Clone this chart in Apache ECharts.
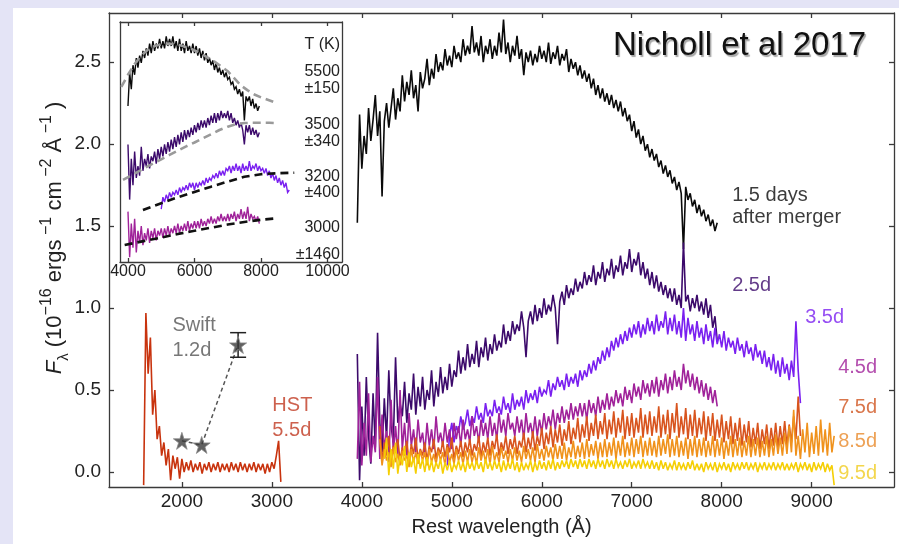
<!DOCTYPE html>
<html><head><meta charset="utf-8">
<script src="https://cdn.jsdelivr.net/npm/echarts@6/dist/echarts.min.js"></script>
<style>
html,body{margin:0;padding:0;background:#e4e4f6;width:899px;height:544px;overflow:hidden;}
#bg{position:absolute;left:13px;top:8px;width:886px;height:536px;background:#fff;}
#chart{position:absolute;left:0;top:0;width:899px;height:544px;}
</style></head><body>
<div id="bg"></div><div id="chart"></div>
<script>
// ---------------- DATA ----------------
// Main panel: flux (1e-16 erg s^-1 cm^-2 A^-1), sampled every STEP Angstrom from *Start
const STEP = 25;
const day15Start = 3950;
const day15 = [
 1.52,2.18,1.85,2.05,1.94,2.22,2.02,2.15,2.30,2.05,2.20,1.68,2.14,2.25,2.10,2.22,2.34,2.15,2.28,2.20,
 2.42,2.26,2.38,2.30,2.45,2.28,2.36,2.20,2.44,2.34,2.40,2.52,2.36,2.46,2.40,2.55,2.44,2.50,2.45,2.58,
 2.48,2.54,2.47,2.60,2.52,2.56,2.50,2.64,2.54,2.60,2.55,2.72,2.56,2.62,2.54,2.66,2.50,2.60,2.55,2.64,
 2.52,2.60,2.54,2.68,2.56,2.76,2.55,2.62,2.50,2.60,2.54,2.66,2.52,2.58,2.42,2.56,2.50,2.57,2.48,2.55,
 2.50,2.60,2.52,2.57,2.50,2.62,2.49,2.56,2.52,2.60,2.48,2.55,2.51,2.58,2.44,2.52,2.46,2.50,2.42,2.48,
 2.40,2.45,2.38,2.43,2.34,2.40,2.30,2.36,2.28,2.34,2.26,2.31,2.24,2.30,2.22,2.27,2.20,2.26,2.17,2.22,
 2.14,2.18,2.08,2.14,2.04,2.09,2.00,2.05,1.96,2.00,1.92,1.97,1.90,1.94,1.86,1.90,1.82,1.87,1.80,1.84,
 1.76,1.80,1.72,1.77,1.70,1.36,1.74,1.66,1.70,1.62,1.66,1.58,1.63,1.56,1.60,1.53,1.57,1.50,1.54,1.47,
 1.52];
const day25Start = 3950;
const day25 = [
 0.72,-0.05,0.40,0.10,0.58,0.22,0.05,0.48,0.15,0.85,0.30,0.12,0.45,0.20,0.62,0.28,0.18,0.70,0.30,0.42,
 0.34,0.55,0.30,0.48,0.38,0.60,0.35,0.52,0.40,0.58,0.38,0.50,0.44,0.62,0.40,0.55,0.46,0.64,0.48,0.58,
 0.50,0.66,0.52,0.62,0.58,0.74,0.60,0.70,0.62,0.78,0.64,0.72,0.66,0.80,0.64,0.76,0.70,0.82,0.68,0.78,
 0.72,0.84,0.74,0.80,0.76,0.90,0.78,0.86,0.80,0.92,0.84,0.90,0.86,0.98,0.88,0.70,0.92,0.98,0.90,1.02,
 0.92,1.00,0.94,1.06,0.96,1.02,0.98,1.08,1.00,0.78,1.04,1.10,1.02,1.14,1.06,1.12,1.08,1.18,1.10,1.16,
 1.12,1.22,1.14,1.20,1.16,1.26,1.14,1.22,1.18,1.28,1.16,1.24,1.20,1.30,1.18,1.26,1.22,1.32,1.20,1.28,
 1.24,1.36,1.22,1.30,1.26,1.34,1.20,1.28,1.18,1.24,1.14,1.22,1.12,1.20,1.10,1.16,1.08,1.14,1.06,1.12,
 1.04,1.12,1.02,1.08,1.00,1.40,1.04,1.08,0.98,1.06,1.00,1.08,0.98,1.04,0.96,1.06,0.94,1.02,0.88,0.95,
 0.80];
const day35Start = 4950;
const day35 = [
 0.04,0.22,0.30,0.18,0.28,0.24,0.34,0.26,0.30,0.38,0.28,0.34,0.30,0.40,0.32,0.36,0.30,0.42,0.34,0.38,
 0.34,0.44,0.36,0.40,0.35,0.46,0.38,0.42,0.36,0.48,0.38,0.44,0.40,0.46,0.38,0.50,0.42,0.48,0.44,0.50,
 0.42,0.52,0.46,0.50,0.48,0.56,0.46,0.54,0.50,0.58,0.52,0.56,0.50,0.60,0.52,0.58,0.54,0.60,0.52,0.62,
 0.56,0.62,0.58,0.66,0.60,0.68,0.62,0.70,0.66,0.74,0.68,0.76,0.70,0.80,0.74,0.82,0.76,0.84,0.78,0.86,
 0.80,0.88,0.82,0.90,0.84,0.92,0.82,0.90,0.84,0.94,0.86,0.92,0.84,0.96,0.86,0.92,0.88,0.98,0.84,0.94,
 0.86,0.96,0.84,0.92,0.82,1.00,0.80,0.94,0.84,0.90,0.80,0.92,0.82,0.88,0.78,0.90,0.80,0.86,0.76,0.88,
 0.78,0.84,0.76,0.86,0.74,0.82,0.76,0.80,0.72,0.82,0.74,0.78,0.70,0.80,0.72,0.76,0.68,0.78,0.70,0.74,
 0.66,0.74,0.64,0.70,0.62,0.72,0.60,0.68,0.58,0.70,0.60,0.66,0.56,0.68,0.58,0.92,0.62,0.42];
const day45Start = 3950;
const day45 = [
 0.08,0.55,0.04,0.30,0.10,0.48,0.06,0.22,0.12,0.58,0.08,0.35,0.14,0.25,0.06,0.44,0.12,0.28,0.10,0.50,
 0.14,0.30,0.10,0.36,0.16,0.26,0.12,0.32,0.18,0.24,0.12,0.30,0.16,0.26,0.14,0.34,0.18,0.24,0.16,0.30,
 0.18,0.26,0.14,0.30,0.20,0.28,0.16,0.32,0.20,0.26,0.18,0.34,0.22,0.28,0.18,0.32,0.22,0.30,0.20,0.34,
 0.22,0.30,0.20,0.36,0.24,0.32,0.22,0.36,0.26,0.30,0.22,0.34,0.24,0.32,0.20,0.36,0.24,0.30,0.22,0.34,
 0.22,0.32,0.24,0.36,0.26,0.34,0.28,0.38,0.26,0.36,0.30,0.40,0.30,0.38,0.32,0.42,0.32,0.40,0.34,0.42,
 0.34,0.42,0.32,0.44,0.36,0.42,0.34,0.46,0.36,0.44,0.38,0.48,0.38,0.46,0.40,0.50,0.42,0.48,0.40,0.52,
 0.44,0.50,0.42,0.54,0.46,0.52,0.44,0.56,0.48,0.54,0.46,0.56,0.48,0.58,0.46,0.56,0.50,0.60,0.48,0.58,
 0.50,0.62,0.52,0.58,0.50,0.66,0.54,0.62,0.52,0.60,0.50,0.58,0.48,0.56,0.46,0.54,0.44,0.52,0.42,0.50,
 0.40];
const day75Start = 4200;
const day75 = [
 0.28,0.06,0.18,0.10,0.22,0.05,0.16,0.12,0.20,0.07,0.15,0.10,0.19,0.06,0.17,0.11,0.21,0.08,0.14,0.10,
 0.18,0.07,0.16,0.12,0.20,0.08,0.15,0.11,0.19,0.09,0.17,0.12,0.21,0.08,0.16,0.11,0.19,0.09,0.18,0.12,
 0.20,0.10,0.17,0.13,0.22,0.09,0.18,0.12,0.21,0.10,0.19,0.14,0.23,0.10,0.18,0.13,0.22,0.11,0.20,0.14,
 0.22,0.11,0.19,0.15,0.24,0.12,0.21,0.14,0.25,0.13,0.22,0.16,0.27,0.14,0.24,0.17,0.28,0.15,0.26,0.18,
 0.29,0.16,0.26,0.19,0.31,0.17,0.27,0.20,0.33,0.18,0.29,0.21,0.34,0.19,0.30,0.22,0.35,0.20,0.31,0.23,
 0.36,0.20,0.32,0.23,0.37,0.21,0.33,0.24,0.38,0.20,0.34,0.22,0.36,0.21,0.33,0.24,0.39,0.21,0.35,0.23,
 0.37,0.22,0.34,0.24,0.40,0.21,0.35,0.23,0.38,0.20,0.36,0.24,0.42,0.21,0.34,0.23,0.39,0.20,0.35,0.22,
 0.38,0.21,0.33,0.23,0.37,0.19,0.34,0.22,0.36,0.19,0.32,0.21,0.35,0.18,0.31,0.20,0.34,0.17,0.30,0.19,
 0.33,0.16,0.29,0.18,0.31,0.15,0.27,0.17,0.30,0.14,0.26,0.17,0.29,0.14,0.27,0.16,0.30,0.15,0.28,0.17,
 0.31,0.16,0.29,0.18,0.34,0.20,0.46,0.22];
const day85Start = 4200;
const day85 = [
 0.20,0.04,0.14,0.07,0.12,0.03,0.15,0.06,0.11,0.04,0.13,0.07,0.10,0.03,0.14,0.06,0.12,0.05,0.13,0.07,
 0.12,0.04,0.14,0.06,0.11,0.05,0.13,0.07,0.12,0.04,0.15,0.06,0.11,0.05,0.14,0.07,0.12,0.05,0.13,0.06,
 0.14,0.06,0.12,0.05,0.15,0.07,0.13,0.06,0.14,0.05,0.16,0.07,0.12,0.06,0.15,0.08,0.13,0.06,0.14,0.07,
 0.15,0.07,0.13,0.06,0.16,0.08,0.14,0.07,0.15,0.06,0.17,0.08,0.14,0.07,0.16,0.09,0.15,0.07,0.17,0.08,
 0.16,0.08,0.18,0.07,0.15,0.09,0.19,0.08,0.16,0.09,0.18,0.08,0.20,0.09,0.17,0.10,0.19,0.08,0.18,0.09,
 0.20,0.09,0.18,0.10,0.21,0.08,0.19,0.10,0.22,0.09,0.18,0.10,0.21,0.09,0.20,0.11,0.22,0.09,0.19,0.10,
 0.21,0.10,0.19,0.09,0.22,0.10,0.20,0.11,0.23,0.09,0.20,0.10,0.22,0.09,0.19,0.10,0.21,0.08,0.20,0.10,
 0.22,0.09,0.20,0.10,0.21,0.09,0.19,0.10,0.22,0.09,0.20,0.10,0.21,0.08,0.19,0.10,0.22,0.09,0.20,0.10,
 0.21,0.09,0.19,0.10,0.22,0.09,0.20,0.10,0.21,0.09,0.19,0.10,0.22,0.09,0.20,0.10,0.23,0.11,0.21,0.10,
 0.24,0.11,0.28,0.12,0.38,0.10,0.22,0.08,0.26,0.12,0.30,0.09,0.24,0.11,0.28,0.10,0.32,0.12,0.26,0.10,
 0.30,0.12,0.22];
const day95Start = 4250;
const day95 = [
 0.08,0.21,-0.02,0.14,0.02,0.18,-0.01,0.10,0.04,0.16,0.00,0.12,0.03,0.09,-0.01,0.11,0.02,0.08,0.00,0.09,
 0.01,0.07,0.00,0.06,0.02,0.08,-0.01,0.06,0.01,0.07,0.00,0.05,0.02,0.07,0.01,0.06,0.00,0.07,0.02,0.06,
 0.01,0.07,0.02,0.06,0.00,0.08,0.02,0.06,0.01,0.07,0.02,0.06,0.00,0.07,0.01,0.06,0.02,0.08,0.01,0.06,
 0.00,0.06,0.01,0.05,0.02,0.07,0.00,0.06,0.01,0.07,0.02,0.06,0.01,0.07,0.02,0.08,0.01,0.06,0.02,0.07,
 0.03,0.07,0.02,0.08,0.03,0.07,0.02,0.08,0.03,0.07,0.02,0.08,0.03,0.07,0.02,0.08,0.03,0.07,0.02,0.08,
 0.03,0.07,0.02,0.08,0.03,0.06,0.02,0.07,0.03,0.08,0.02,0.06,0.03,0.07,0.02,0.08,0.03,0.06,0.02,0.07,
 0.02,0.06,0.01,0.07,0.02,0.06,0.01,0.05,0.02,0.07,0.01,0.06,0.02,0.05,0.01,0.06,0.02,0.07,0.01,0.05,
 0.01,0.05,0.00,0.06,0.02,0.05,0.01,0.06,0.00,0.05,0.02,0.06,0.01,0.05,0.00,0.06,0.02,0.05,0.01,0.06,
 0.02,0.06,0.01,0.05,0.02,0.06,0.00,0.05,0.02,0.06,0.01,0.05,0.02,0.06,0.01,0.05,0.02,0.06,0.01,0.05,
 0.01,0.05,0.02,0.06,0.00,0.05,0.02,0.06,0.01,0.05,0.00,0.06,0.01,0.05,0.02,0.06,0.00,0.05,0.01,0.04,
 -0.08];
const HST_STEP = 25;
const hstStart = 1575;
const hst55 = [-0.08,0.97,0.60,0.82,0.35,0.50,0.20,0.28,0.10,0.18,
 0.04,0.14,-0.05,0.10,0.02,0.09,-0.04,0.08,0.00,0.06,
 0.01,0.07,0.00,0.05,0.01,0.06,-0.01,0.05,0.01,0.06,
 0.00,0.05,0.01,0.06,0.00,0.05,0.01,0.05,0.00,0.06,
 0.01,0.05,0.00,0.06,0.01,0.05,0.00,0.05,0.01,0.06,
 0.00,0.05,0.01,0.05,-0.01,0.05,0.00,0.06,0.02,0.10,
 0.19,-0.06];
// Swift photometry (1.2 d)
const swiftWave = [2000, 2220, 2625];
const swiftFlux = [0.19, 0.165, 0.775];
const swiftErrLo = [null, null, 0.70];
const swiftErrHi = [null, null, 0.85];

// Inset: arbitrary offset flux units, sampled every INSET_STEP Angstrom
const INSET_STEP = 50;
const inset15Start = 4000;
const inset15 = [
 6.5,7.9,7.2,8.2,7.8,8.5,8.1,8.6,8.3,8.8,8.5,8.9,8.6,9.1,8.7,9.2,8.8,9.1,8.9,9.3,
 8.9,9.2,8.9,9.4,9.0,9.3,9.0,9.4,8.9,9.2,8.8,9.3,8.8,9.1,8.7,9.2,8.8,9.0,8.7,9.1,
 8.7,9.0,8.6,8.9,8.5,8.8,8.4,8.7,8.3,8.5,8.2,8.4,8.0,8.3,7.9,8.1,7.8,8.0,7.7,7.9,
 7.6,7.7,7.4,7.5,7.2,7.3,7.0,7.2,6.9,7.1,5.9,6.9,6.7,6.9,6.5,6.8,6.4,6.6,6.3,6.5];
const fit5500Wave = [3800,4000,4200,4400,4600,4800,5000,5200,5400,5600,5800,6000,6200,6400,6600,6800,7000,7200,7400,7600,7800,8000,8200,8400];
const fit5500 = [7.3,7.8,8.25,8.6,8.85,9.0,9.07,9.1,9.08,9.02,8.93,8.82,8.68,8.52,8.35,8.15,7.95,7.65,7.35,7.15,6.98,6.86,6.76,6.66];
const inset25Start = 4000;
const inset25 = [
 4.9,2.6,4.3,3.2,4.6,3.5,4.0,3.6,4.8,3.8,4.3,4.0,4.5,3.9,4.4,4.2,4.6,4.1,4.7,4.3,
 4.8,4.4,4.9,4.5,5.0,4.6,5.1,4.7,5.2,4.8,5.3,4.9,5.4,5.0,5.5,5.1,5.5,5.2,5.6,5.3,
 5.7,5.4,5.8,5.5,5.9,5.6,5.9,5.6,6.0,5.7,6.1,5.8,6.2,5.8,6.2,5.9,6.3,6.0,6.2,6.0,
 6.3,5.9,6.2,5.8,6.0,5.7,5.9,5.6,5.8,5.5,4.9,5.7,5.4,5.7,5.3,5.6,5.3,5.5,5.2,5.4];
const fit3500Wave = [3850,4250,4500,4750,5000,5250,5500,5750,6000,6250,6500,6750,7000,7250,7500,7750,8000,8250,8400];
const fit3500 = [3.42,3.72,3.92,4.1,4.28,4.46,4.64,4.82,4.98,5.15,5.32,5.5,5.64,5.74,5.79,5.8,5.8,5.8,5.79];
const inset35Start = 5000;
const inset35 = [
 2.2,2.7,2.5,2.8,2.6,2.9,2.7,2.9,2.8,3.0,2.8,3.1,2.9,3.1,3.0,3.2,3.0,3.3,3.1,3.3,
 3.0,3.3,3.1,3.3,3.2,3.4,3.2,3.5,3.3,3.5,3.4,3.6,3.5,3.7,3.5,3.8,3.6,3.8,3.6,3.9,
 3.8,4.0,3.7,4.0,3.8,4.1,3.8,4.0,3.7,4.1,3.8,4.0,3.8,4.2,3.8,4.0,3.9,4.1,3.8,4.0,
 3.8,3.9,3.7,3.9,3.6,3.8,3.5,3.7,3.4,3.6,3.3,3.5,3.2,3.4,3.1,3.3,2.9,3.0];
const fit3200Wave = [4450,5000,5500,6000,6500,7000,7500,8000,8500,9000];
const fit3200 = [2.17,2.45,2.7,2.92,3.14,3.35,3.55,3.66,3.7,3.72];
const inset45Start = 4000;
const inset45 = [
 2.1,0.2,1.6,0.6,1.8,0.4,1.3,0.8,1.5,0.7,1.2,0.9,1.4,0.8,1.3,1.0,1.4,0.9,1.3,1.1,
 1.4,1.0,1.4,1.1,1.5,1.1,1.4,1.2,1.5,1.2,1.6,1.2,1.5,1.3,1.6,1.3,1.7,1.3,1.6,1.4,
 1.7,1.4,1.7,1.4,1.8,1.5,1.7,1.5,1.8,1.6,1.9,1.6,1.8,1.6,1.9,1.7,2.0,1.7,1.9,1.7,
 2.0,1.7,2.0,1.8,2.1,1.7,2.0,1.8,2.2,1.8,2.1,1.8,2.3,1.7,2.0,1.8,1.9,1.7,1.9,1.6];
const fit3000Wave = [3900,4500,5000,5500,6000,6500,7000,7500,8000,8400];
const fit3000 = [0.71,0.88,1.02,1.17,1.3,1.43,1.56,1.67,1.76,1.81];

// Tick labels
const mainXTicks = [2000,3000,4000,5000,6000,7000,8000,9000];
const mainYTicks = [0,0.5,1.0,1.5,2.0,2.5];
const insetXTicks = [4000,6000,8000,10000];
const insetTemps = [['5500','±150'],['3500','±340'],['3200','±400'],['3000','±1460']];

// Annotation anchors (data coordinates of main panel)
const specLabels = [
 {text:'1.5 days\nafter merger', x:8111, y:1.62, color:'#0a0a0a', lh:22},
 {text:'2.5d', x:8111, y:1.14, color:'#3c0a6b', lh:22},
 {text:'3.5d', x:8922, y:0.945, color:'#7a20f0', lh:22},
 {text:'4.5d', x:9289, y:0.64, color:'#a0229a', lh:22},
 {text:'7.5d', x:9289, y:0.396, color:'#d0541e', lh:22},
 {text:'8.5d', x:9289, y:0.189, color:'#e88a2a', lh:22},
 {text:'9.5d', x:9289, y:-0.012, color:'#f0cc20', lh:22},
 {text:'HST\n5.5d', x:3000, y:0.33, color:'#c03a22', lh:25},
 {text:'Swift\n1.2d', x:1889, y:0.82, color:'#555555', lh:25}
];

// ---------------- BUILD ----------------
const FONT = '"Liberation Sans", Arial, Helvetica, sans-serif';
const grid = (start, step, arr) => arr.map((v, i) => [start + i * step, v]);
const zip = (xs, ys) => xs.map((x, i) => [x, ys[i]]);

function spec(name, data, color, xi, lw) {
  return {name, type:'line', data, xAxisIndex:xi, yAxisIndex:xi, showSymbol:false, symbol:'none',
    lineStyle:{color, width:lw || 1.2, join:'miter', miterLimit:3}, itemStyle:{color}, animation:false, silent:true, clip:true};
}
function fit(name, data, color) {
  return {name, type:'line', data, xAxisIndex:2, yAxisIndex:2, showSymbol:false, symbol:'none',
    lineStyle:{color, width:2.6, type:[8,5]}, animation:false, silent:true, z:5};
}
const STAR = 'path://M50,0 L61.8,35.3 L99,35.3 L68.9,57.1 L80.4,92.7 L50,70.6 L19.6,92.7 L31.1,57.1 L1,35.3 L38.2,35.3 Z';

const axisLineStyle = {color:'#3a3a3a', width:1.3};
const W = 1.6;
const series = [
  spec('1.5d', grid(day15Start, STEP, day15), '#0a0a0a', 0, W),
  spec('2.5d', grid(day25Start, STEP, day25), '#3c0a6b', 0, W),
  spec('3.5d', grid(day35Start, STEP, day35), '#7a20f0', 0, W),
  spec('4.5d', grid(day45Start, STEP, day45), '#a0229a', 0, W),
  spec('7.5d', grid(day75Start, STEP, day75), '#d8541e', 0, W),
  spec('8.5d', grid(day85Start, STEP, day85), '#f0921c', 0, W),
  spec('9.5d', grid(day95Start, STEP, day95), '#f5cf05', 0, W),
  spec('HST', grid(hstStart, HST_STEP, hst55), '#c8330e', 0, 1.6),
  {name:'swiftLine', type:'line', data:zip(swiftWave, swiftFlux), xAxisIndex:0, yAxisIndex:0, symbol:'none',
   lineStyle:{color:'#555', width:1.5, type:[4,3]}, animation:false, silent:true, z:6},
  {name:'swiftErr', type:'custom', xAxisIndex:0, yAxisIndex:0, z:7, animation:false, silent:true,
   data: swiftWave.map((w, i) => [w, swiftErrLo[i], swiftErrHi[i]]).filter(d => d[1] !== null),
   encode:{x:0, y:[1,2]},
   renderItem:(params, api) => {
     const x = api.value(0);
     const lo = api.coord([x, api.value(1)]);
     const hi = api.coord([x, api.value(2)]);
     const w = 8, st = {stroke:'#222', lineWidth:1.5};
     return {type:'group', children:[
       {type:'line', shape:{x1:lo[0], y1:lo[1], x2:hi[0], y2:hi[1]}, style:st},
       {type:'line', shape:{x1:lo[0]-w, y1:lo[1], x2:lo[0]+w, y2:lo[1]}, style:st},
       {type:'line', shape:{x1:hi[0]-w, y1:hi[1], x2:hi[0]+w, y2:hi[1]}, style:st}]};
   }},
  {name:'swift', type:'scatter', data:zip(swiftWave, swiftFlux), xAxisIndex:0, yAxisIndex:0,
   symbol:STAR, symbolSize:17, itemStyle:{color:'#3a3a3a', borderColor:'#8a8a8a', borderWidth:1},
   animation:false, silent:true, z:8},
  {name:'labels', type:'scatter', xAxisIndex:0, yAxisIndex:0, symbolSize:1, silent:true, animation:false, z:9,
   itemStyle:{color:'transparent'},
   label:{show:true, position:'right', distance:0, fontSize:20, fontFamily:FONT},
   data: specLabels.map(l => ({value:[l.x, l.y], label:{formatter:l.text, color:l.color, lineHeight:l.lh}}))},
  // inset
  spec('in1.5', grid(inset15Start, INSET_STEP, inset15), '#0a0a0a', 2, 1.4),
  spec('in2.5', grid(inset25Start, INSET_STEP, inset25), '#3c0a6b', 2, 1.4),
  spec('in3.5', grid(inset35Start, INSET_STEP, inset35), '#7a20f0', 2, 1.4),
  spec('in4.5', grid(inset45Start, INSET_STEP, inset45), '#a0229a', 2, 1.4),
  fit('fit5500', zip(fit5500Wave, fit5500), '#9a9a9a'),
  fit('fit3500', zip(fit3500Wave, fit3500), '#9a9a9a'),
  fit('fit3200', zip(fit3200Wave, fit3200), '#111111'),
  fit('fit3000', zip(fit3000Wave, fit3000), '#111111')
];

const tickLab = {fontSize:19, color:'#222', fontFamily:FONT};
const plain = v => String(v);
const option = {
  animation:false,
  backgroundColor:'transparent',
  grid:[
    {left:109, top:13, right:5, bottom:57, show:false},
    {left:120, top:22, width:222, height:240, show:true, backgroundColor:'#ffffff', borderWidth:0, z:3}
  ],
  xAxis:[
    {type:'value', gridIndex:0, min:1190, max:9915, position:'bottom',
     axisLine:{show:true, onZero:false, lineStyle:axisLineStyle},
     axisTick:{show:true, inside:true, length:5, customValues:mainXTicks, lineStyle:axisLineStyle},
     axisLabel:{show:true, margin:5, customValues:mainXTicks, formatter:plain, ...tickLab},
     splitLine:{show:false},
     name:'Rest wavelength (Å)', nameLocation:'middle', nameGap:30,
     nameTextStyle:{fontSize:20, color:'#222', fontFamily:FONT}},
    {type:'value', gridIndex:0, min:1190, max:9915, position:'top',
     axisLine:{show:true, onZero:false, lineStyle:axisLineStyle},
     axisTick:{show:true, inside:true, length:5, customValues:mainXTicks, lineStyle:axisLineStyle},
     axisLabel:{show:false}, splitLine:{show:false}},
    {type:'value', gridIndex:1, min:3760, max:10436, position:'bottom', z:4,
     axisLine:{show:true, onZero:false, lineStyle:axisLineStyle},
     axisTick:{show:true, inside:true, length:4, customValues:insetXTicks, lineStyle:axisLineStyle},
     axisLabel:{show:true, margin:2, customValues:insetXTicks, formatter:plain, fontSize:16, color:'#222', fontFamily:FONT},
     splitLine:{show:false}},
    {type:'value', gridIndex:1, min:3760, max:10436, position:'top', z:4,
     axisLine:{show:true, onZero:false, lineStyle:axisLineStyle},
     axisTick:{show:true, inside:true, length:4, customValues:insetXTicks, lineStyle:axisLineStyle},
     axisLabel:{show:false}, splitLine:{show:false}}
  ],
  yAxis:[
    {type:'value', gridIndex:0, min:-0.0915, max:2.80, position:'left',
     axisLine:{show:true, onZero:false, lineStyle:axisLineStyle},
     axisTick:{show:true, inside:true, length:5, customValues:mainYTicks, lineStyle:axisLineStyle},
     axisLabel:{show:true, margin:8, customValues:mainYTicks, formatter:v => Number(v).toFixed(1), ...tickLab},
     splitLine:{show:false}},
    {type:'value', gridIndex:0, min:-0.0915, max:2.80, position:'right',
     axisLine:{show:true, onZero:false, lineStyle:axisLineStyle},
     axisTick:{show:true, inside:true, length:5, customValues:mainYTicks, lineStyle:axisLineStyle},
     axisLabel:{show:false}, splitLine:{show:false}},
    {type:'value', gridIndex:1, min:0, max:10, position:'left', z:4,
     axisLine:{show:true, onZero:false, lineStyle:axisLineStyle},
     axisTick:{show:false}, axisLabel:{show:false}, splitLine:{show:false}},
    {type:'value', gridIndex:1, min:0, max:10, position:'right', z:4,
     axisLine:{show:true, onZero:false, lineStyle:axisLineStyle},
     axisTick:{show:false}, axisLabel:{show:false}, splitLine:{show:false}}
  ],
  series
};

const chart = echarts.init(document.getElementById('chart'), null, {renderer:'canvas'});
chart.setOption(option);

// Texts: title, y-axis title, inset temperature labels
const gfx = [];
gfx.push({type:'text', x:613, y:46, z:100,
  style:{text:'Nicholl et al 2017', fontSize:33, fontFamily:FONT, fill:'#111', verticalAlign:'middle',
         textShadowColor:'rgba(0,0,0,0.35)', textShadowOffsetX:1.5, textShadowOffsetY:1.5, textShadowBlur:1}});
gfx.push({type:'text', x:55, y:238, rotation:Math.PI/2, z:100,
  style:{text:'{it|F}{sub|λ}{n| (10}{sup|−16}{n| ergs}{sup| −1}{n| cm}{sup| −2}{n| Å}{sup| −1}{n| )}',
    align:'center', verticalAlign:'middle', fill:'#222', fontFamily:FONT, fontSize:22,
    rich:{
      n:{fontSize:22, lineHeight:32, fontFamily:FONT, fill:'#222'},
      it:{fontSize:22, lineHeight:32, fontStyle:'italic', fontFamily:FONT, fill:'#222'},
      sub:{fontSize:15, lineHeight:15, verticalAlign:'bottom', fontFamily:FONT, fill:'#222'},
      sup:{fontSize:16, lineHeight:15, verticalAlign:'top', fontFamily:FONT, fill:'#222'}
    }}});
gfx.push({type:'text', x:340, y:45, z:100, style:{text:'T (K)', fontSize:16, fontFamily:FONT, fill:'#222', align:'right', verticalAlign:'middle'}});
const tempY = [[72,89],[125,142],[177,193],[228,255]];
insetTemps.forEach((t, i) => {
  gfx.push({type:'text', x:340, y:tempY[i][0], z:100, style:{text:t[0], fontSize:16, fontFamily:FONT, fill:'#222', align:'right', verticalAlign:'middle'}});
  gfx.push({type:'text', x:340, y:tempY[i][1], z:100, style:{text:t[1], fontSize:16, fontFamily:FONT, fill:'#222', align:'right', verticalAlign:'middle'}});
});
chart.setOption({graphic:gfx});
</script>
</body></html>
